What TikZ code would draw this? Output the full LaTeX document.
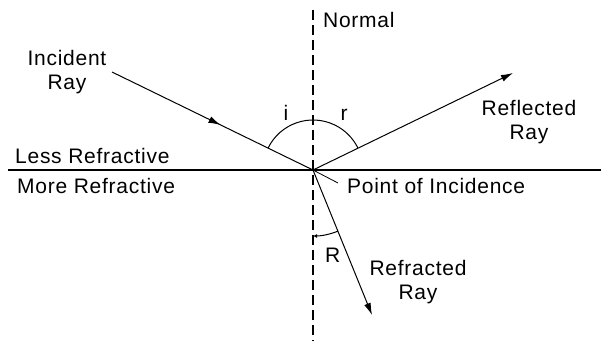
\documentclass[tikz,border=0pt]{standalone}
\usepackage{fontspec}
\setmainfont[LetterSpace=3.5]{Liberation Sans}
\usetikzlibrary{arrows.meta,decorations.markings,calc}
\begin{document}
\begin{tikzpicture}[x=1pt,y=1pt,
  lbl/.style={inner sep=0pt,font=\fontsize{21}{24}\selectfont},
  mlbl/.style={lbl,align=center,anchor=north},
  ray/.style={line width=1pt},
  tip/.style={-{Latex[length=12pt,width=7pt]}},
  normalline/.style={line width=1.2pt,dash pattern=on 10pt off 5pt},
  arcline/.style={line width=1pt}]
\useasboundingbox (0,0) rectangle (601,341);
% key points
\coordinate (O) at (313,171);
\coordinate (inc) at (112,269);
\coordinate (refl) at (513,268);
\coordinate (refr) at (372,26);
\coordinate (ntop) at (313,331);
\coordinate (nbot) at (313,0);
\coordinate (sl) at (8,171);
\coordinate (sr) at (601,171);
\coordinate (lead) at (338,158);
% surface and normal
\draw[line width=1.4pt] (sl) -- (sr);
\draw[normalline] (ntop) -- (nbot);
% rays
\draw[ray,postaction={decorate},decoration={markings,
  mark=at position 0.54 with {\arrow{Latex[length=12pt,width=7pt]}}}] (inc) -- (O);
\draw[ray,tip] (O) -- (refl);
\draw[ray,tip] (O) -- (refr);
\draw[line width=0.8pt] (O) -- (lead);
% angle arcs
\draw[arcline] ($(O)+(154:50)$) arc[start angle=154,end angle=26,radius=50];
\draw[arcline,-{Latex[length=4pt,width=4pt]}] ($(O)+(-68:66)$) arc[start angle=-68,end angle=-90,radius=66];
% labels
\node[lbl,anchor=base west] (nlab) at (323,314) {Normal};
\node[mlbl] (ilab) at (67,291) {Incident\\Ray};
\node[mlbl] (rlab) at (529,241) {Reflected\\Ray};
\node[mlbl] (rflab) at (418,81) {Refracted\\Ray};
\node[lbl,anchor=base west] (less) at (15,178) {Less Refractive};
\node[lbl,anchor=base west] (more) at (17,148) {More Refractive};
\node[lbl,anchor=base west] (poi) at (347,148) {Point of Incidence};
\node[lbl,anchor=base] (ai) at (286,221) {i};
\node[lbl,anchor=base] (ar) at (344,221) {r};
\node[lbl,anchor=base west] (aR) at (325,79) {R};
\end{tikzpicture}
\end{document}
